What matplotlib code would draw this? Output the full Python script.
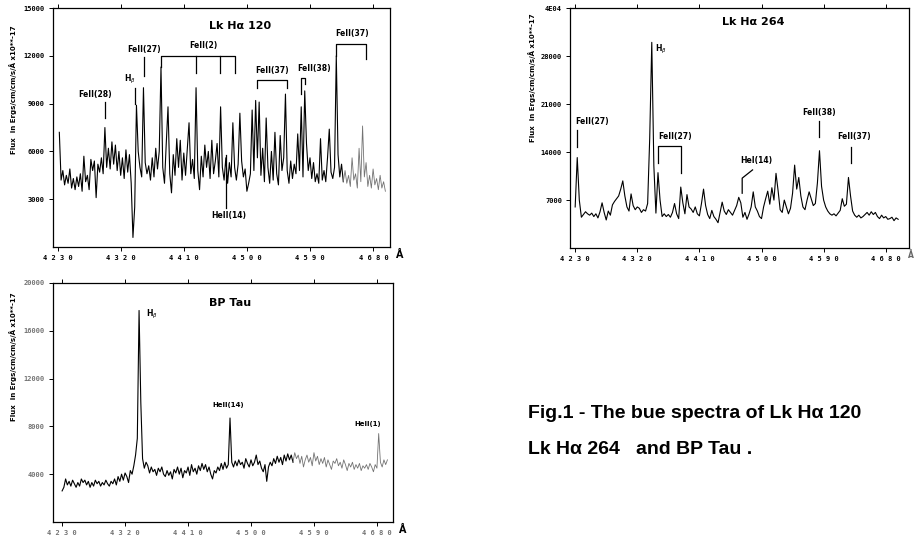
#!/usr/bin/env python3

import numpy as np
import matplotlib
matplotlib.use('Agg')
import matplotlib.pyplot as plt

# --- spectra (flux in units of 1000, sampled on a regular wavelength grid) ---
start_120, step_120 = 4232.0, 2.5
flux_120 = [7.2, 4.2, 4.8, 3.9, 4.5, 4.0, 4.9, 3.7, 4.3, 3.6,
            4.4, 3.8, 4.6, 3.5, 5.7, 4.1, 4.5, 3.6, 5.5, 4.8,
            5.4, 3.1, 5.2, 4.7, 5.6, 4.6, 7.5, 5.0, 6.2, 4.9,
            6.6, 5.2, 6.4, 4.8, 6.0, 4.5, 5.6, 4.3, 6.1, 4.7,
            5.8, 4.0, 0.6, 2.5, 8.9, 6.0, 5.0, 4.4, 10.0, 5.3,
            4.6, 5.1, 4.2, 5.6, 4.4, 6.2, 4.9, 6.0, 11.3, 5.0,
            4.0, 6.5, 8.8, 4.6, 3.4, 5.8, 4.5, 6.8, 5.0, 6.7,
            4.2, 5.9, 4.5, 6.1, 7.8, 4.6, 5.5, 4.3, 10.0, 4.8,
            3.6, 5.7, 4.4, 6.4, 5.0, 6.0, 4.3, 6.7, 4.6, 5.4,
            6.5, 4.4, 8.8, 5.0, 4.2, 5.6, 4.0, 5.3, 4.4, 7.8,
            5.0, 4.2, 5.2, 8.4, 5.4, 4.4, 4.9, 3.5, 4.0, 4.6,
            8.6, 4.8, 9.2, 5.6, 9.1, 4.5, 6.2, 4.1, 8.1, 5.0,
            4.0, 6.0, 4.2, 7.2, 4.6, 3.9, 7.0, 4.8, 5.6, 9.6,
            4.8, 4.0, 5.4, 4.3, 5.2, 4.6, 7.1, 4.8, 8.8, 4.4,
            9.8, 6.5, 4.8, 5.6, 4.3, 5.3, 4.1, 4.6, 4.0, 6.8,
            4.2, 4.8, 4.1, 5.6, 7.4, 4.7, 4.3, 5.0, 12.0, 5.8,
            4.4, 5.2, 4.1, 4.8, 4.0, 4.5, 3.8, 5.6, 4.2, 4.6,
            3.7, 6.2, 4.1, 7.6, 4.4, 5.3, 3.8, 4.5, 3.7, 4.9,
            3.9, 4.3, 3.6, 4.5, 3.7, 4.1, 3.5]

start_264, step_264 = 4230.0, 3.0
flux_264 = [6.0, 13.2, 7.0, 4.5, 4.9, 5.3, 5.0, 4.8, 5.1, 4.6,
            5.0, 4.4, 5.3, 6.6, 5.2, 4.1, 5.4, 4.8, 6.3, 6.8,
            7.2, 7.6, 8.6, 9.8, 7.6, 6.0, 5.4, 7.9, 6.2, 5.6,
            6.0, 5.8, 5.2, 5.6, 5.4, 6.5, 16.0, 30.0, 12.0, 5.1,
            11.0, 7.0, 4.6, 5.0, 4.6, 4.9, 4.5, 5.2, 6.5, 5.0,
            4.3, 8.9, 6.6, 5.0, 7.8, 6.0, 5.7, 5.2, 6.0, 5.0,
            4.7, 6.5, 8.6, 6.2, 4.9, 4.3, 5.5, 4.6, 4.2, 3.7,
            5.2, 6.7, 5.4, 4.9, 5.6, 5.2, 4.8, 5.5, 6.2, 7.4,
            6.6, 4.5, 5.2, 4.2, 5.0, 6.0, 8.2, 6.0, 5.4, 4.6,
            4.3, 6.0, 7.2, 8.3, 6.4, 8.8, 7.0, 10.9, 8.4, 5.6,
            5.2, 7.0, 6.0, 5.0, 5.8, 8.0, 12.1, 8.6, 10.3, 7.6,
            6.0, 5.6, 7.0, 8.2, 7.2, 6.2, 6.5, 9.5, 14.2, 9.0,
            7.0, 6.0, 5.4, 5.0, 4.8, 5.0, 4.7, 5.1, 5.5, 7.2,
            6.1, 6.4, 10.3, 7.6, 5.4, 4.8, 4.5, 4.8, 4.4, 4.6,
            4.9, 5.2, 4.8, 5.3, 4.9, 5.2, 4.6, 4.3, 4.8, 4.4,
            4.6, 4.2, 4.3, 4.5, 4.0, 4.4, 4.2]

start_bp, step_bp = 4230.0, 2.5
flux_bp = [2.6, 2.9, 3.6, 3.1, 3.4, 3.0, 3.5, 3.2, 2.9, 3.3,
           3.0, 3.6, 3.3, 3.5, 3.1, 3.4, 2.9, 3.3, 3.0, 3.5,
           3.2, 3.4, 3.0, 3.3, 3.1, 3.5, 3.2, 3.0, 3.4, 3.2,
           3.6, 3.1, 3.8, 3.4, 4.0, 3.5, 4.1, 3.8, 3.3, 4.3,
           4.0, 4.7, 5.6, 7.0, 17.7, 10.0, 5.3, 4.5, 5.0, 4.7,
           4.1, 4.6, 4.2, 4.4, 3.9, 4.5, 4.2, 4.6, 4.0, 3.8,
           4.3, 3.9, 4.2, 3.6, 4.4, 4.1, 4.6, 4.0, 4.5, 3.7,
           4.3, 4.1, 4.6, 3.9, 4.8, 4.2, 4.5, 4.0, 4.7, 4.3,
           4.9, 4.4, 4.8, 4.2, 4.6, 4.0, 3.6, 4.3, 4.1, 4.6,
           4.3, 4.9, 4.4, 5.0, 4.5, 4.8, 8.7, 5.0, 4.6, 5.1,
           4.7, 5.2, 4.8, 5.0, 4.5, 5.3, 4.9, 4.6, 5.2, 4.7,
           5.0, 5.6, 4.8, 5.1, 4.5, 4.2, 4.8, 3.4, 4.6, 5.0,
           4.7, 5.3, 4.9, 5.5, 5.0, 5.4, 4.8, 5.6, 5.1, 5.7,
           5.2, 5.6, 5.0, 5.8, 5.3, 5.6, 4.9, 5.5, 4.6, 5.2,
           5.6, 5.0, 5.4, 4.7, 5.8, 5.1, 5.5, 4.8, 5.3, 4.9,
           5.4, 4.6, 5.2, 4.8, 4.4, 5.1, 4.9, 5.3, 4.7, 5.0,
           4.5, 5.2, 4.8, 4.3, 4.9, 4.6, 5.0, 4.4, 4.8, 4.5,
           4.9, 4.3, 4.7, 4.5, 4.8, 4.4, 4.9, 4.6, 4.2, 4.8,
           4.5, 7.4, 5.0, 4.6, 5.2, 4.8, 5.2]

xticks = [4230, 4320, 4410, 4500, 4590, 4680]

yticks_120 = [3, 6, 9, 12, 15]
ylabels_120 = ['3000', '6000', '9000', '12000', '15000']
yticks_264 = [7, 14, 21, 28, 35]
ylabels_264 = ['7000', '14000', '21000', '28000', '4E04']
yticks_bp = [4, 8, 12, 16, 20]
ylabels_bp = ['4000', '8000', '12000', '16000', '20000']

ylab = 'Flux  in Ergs/cm/cm/s/\u00c5 x10**-17'
tickfont = dict(family='DejaVu Sans Mono', weight='bold', size=5)


def spaced(v):
    return ' '.join(str(v))


def setup(ax, xlim, ylim, yt, yl, tcol='black'):
    ax.set_xlim(*xlim)
    ax.set_ylim(*ylim)
    ax.set_xticks(xticks)
    ax.set_xticklabels([spaced(v) for v in xticks], fontdict=tickfont, color=tcol)
    ax.set_yticks(yt)
    ax.set_yticklabels(yl, fontdict=tickfont, color=tcol)
    ax.tick_params(direction='out', length=3, width=0.7, pad=3)
    ax.tick_params(axis='x', top=True, labeltop=False)
    for s in ax.spines.values():
        s.set_linewidth(0.9)


def plot_spec(ax, start, step, flux, grey_from):
    wl = start + step * np.arange(len(flux))
    f = np.array(flux)
    i = np.searchsorted(wl, grey_from)
    ax.plot(wl[:i + 1], f[:i + 1], color='black', lw=0.8)
    ax.plot(wl[i:], f[i:], color='0.45', lw=0.6)


def mark(ax, x, y0, y1):
    ax.plot([x, x], [y0, y1], color='black', lw=0.9)


def bracket(ax, x0, x1, y, d0, d1):
    ax.plot([x0, x0, x1, x1], [d0, y, y, d1], color='black', lw=0.9)


def label(ax, x, y, s, size=5.5, ha='center'):
    ax.text(x, y, s, fontsize=size, fontweight='bold', ha=ha, va='center')


fig = plt.figure(figsize=(9.14, 5.37), dpi=100)

# Lk Ha 120
ax1 = fig.add_axes([0.058, 0.540, 0.369, 0.445])
plot_spec(ax1, start_120, step_120, flux_120, 4637)
setup(ax1, (4223, 4704), (0, 15), yticks_120, ylabels_120)
label(ax1, 4490, 13.9, 'Lk H\u03b1 120', size=8)
mark(ax1, 4297, 8.1, 9.1)
label(ax1, 4283, 9.6, 'FeII(28)')
mark(ax1, 4340, 9.0, 10.0)
label(ax1, 4333, 10.5, 'H$_\\beta$')
mark(ax1, 4353, 10.75, 11.9)
label(ax1, 4353, 12.4, 'FeII(27)')
bracket(ax1, 4377, 4483, 12.0, 11.3, 10.9)
mark(ax1, 4427, 10.9, 12.0)
mark(ax1, 4461, 10.9, 12.0)
label(ax1, 4437, 12.65, 'FeII(2)')
bracket(ax1, 4514, 4556, 10.5, 10.0, 10.0)
label(ax1, 4536, 11.06, 'FeII(37)')
bracket(ax1, 4577, 4583, 10.62, 9.6, 10.25)
label(ax1, 4595, 11.2, 'FeII(38)')
bracket(ax1, 4627, 4669, 12.75, 12.0, 11.8)
label(ax1, 4650, 13.4, 'FeII(37)')
mark(ax1, 4470, 2.45, 5.75)
label(ax1, 4474, 1.95, 'HeII(14)')
ax1.text(-0.12, 0.66, ylab, transform=ax1.transAxes, rotation=90,
         fontsize=5, fontweight='bold', ha='center', va='center')
ax1.text(1.027, -0.035, '\u00c5', transform=ax1.transAxes, fontsize=7,
         fontweight='bold', ha='center', va='center')

# Lk Ha 264
ax2 = fig.add_axes([0.624, 0.538, 0.370, 0.447])
plot_spec(ax2, start_264, step_264, flux_264, 4800)
setup(ax2, (4223, 4713), (0, 35), yticks_264, ylabels_264)
label(ax2, 4488, 32.9, 'Lk H\u03b1 264', size=8)
label(ax2, 4345, 28.9, 'H$_\\beta$', ha='left')
mark(ax2, 4233, 14.7, 17.2)
label(ax2, 4255, 18.4, 'FeII(27)')
bracket(ax2, 4350, 4384, 14.9, 12.4, 10.9)
label(ax2, 4375, 16.2, 'FeII(27)')
ax2.plot([4472, 4472, 4487], [8.0, 10.2, 11.4], color='black', lw=0.9)
label(ax2, 4493, 12.7, 'HeI(14)')
mark(ax2, 4583, 16.2, 18.5)
label(ax2, 4583, 19.8, 'FeII(38)')
mark(ax2, 4629, 12.4, 14.7)
label(ax2, 4634, 16.3, 'FeII(37)')
ax2.text(-0.112, 0.71, ylab, transform=ax2.transAxes, rotation=90,
         fontsize=5, fontweight='bold', ha='center', va='center')
fig.text(910.5 / 914, 1 - 255 / 537, '\u00c5', fontsize=5.5,
         fontweight='bold', ha='center', va='center', color='0.4')

# BP Tau
ax3 = fig.add_axes([0.058, 0.028, 0.372, 0.445])
plot_spec(ax3, start_bp, step_bp, flux_bp, 4560)
setup(ax3, (4217, 4703), (0, 20), yticks_bp, ylabels_bp, tcol='0.45')
label(ax3, 4470, 18.3, 'BP Tau', size=8)
label(ax3, 4350, 17.4, 'H$_\\beta$', ha='left')
label(ax3, 4467, 9.75, 'HeII(14)', size=5)
label(ax3, 4667, 8.2, 'HeII(1)', size=5)
ax3.text(-0.118, 0.69, ylab, transform=ax3.transAxes, rotation=90,
         fontsize=5, fontweight='bold', ha='center', va='center')
ax3.text(1.03, -0.033, '\u00c5', transform=ax3.transAxes, fontsize=7,
         fontweight='bold', ha='center', va='center')

# caption
cap = dict(fontsize=14, fontweight='bold', ha='left', va='center',
           family=['Liberation Sans', 'DejaVu Sans'])
fig.text(528 / 914, 1 - 413 / 537, 'Fig.1 - The bue spectra of Lk H\u03b1 120', **cap)
fig.text(528 / 914, 1 - 450 / 537, 'Lk H\u03b1 264   and BP Tau .', **cap)

plt.savefig('out.png', dpi=100)
